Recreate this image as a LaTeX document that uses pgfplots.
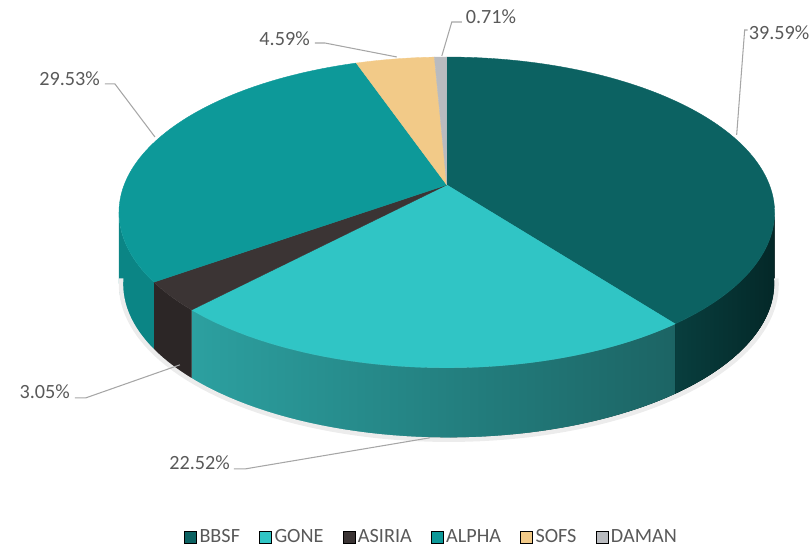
\documentclass[border=0pt]{standalone}
\usepackage{fontspec}
\setmainfont{Carlito}
\usepackage{pgfplots}
\usepackage{pgfplotstable}
\pgfplotsset{compat=1.18}
\usepgfplotslibrary{fillbetween}

\definecolor{labelgray}{RGB}{89,89,89}
\definecolor{leader}{RGB}{166,166,166}
\definecolor{bbsf}{RGB}{12,98,98}
\definecolor{bbsfside}{RGB}{8,62,62}
\definecolor{bbsfsidedark}{RGB}{4,40,40}
\definecolor{gone}{RGB}{48,197,197}
\definecolor{goneside}{RGB}{44,160,160}
\definecolor{gonesidedark}{RGB}{28,100,100}
\definecolor{asiria}{RGB}{59,52,52}
\definecolor{asiriaside}{RGB}{44,38,38}
\definecolor{alpha}{RGB}{13,153,153}
\definecolor{alphaside}{RGB}{11,133,133}
\definecolor{sofs}{RGB}{242,202,136}
\definecolor{daman}{RGB}{185,187,191}

% share of each company, in percent
\pgfplotstableread{
label  pct
BBSF   39.59
GONE   22.52
ASIRIA 3.05
ALPHA  29.53
SOFS   4.59
DAMAN  0.71
}\piedata

% start / end angle of each slice, clockwise from the top
\def\cum{90}
\pgfplotsforeachungrouped \i in {0,...,5}{%
  \pgfplotstablegetelem{\i}{pct}\of\piedata
  \pgfmathsetmacro\nxt{\cum-3.6*\pgfplotsretval}%
  \expandafter\xdef\csname pieS\i\endcsname{\cum}%
  \expandafter\xdef\csname pieE\i\endcsname{\nxt}%
  \xdef\cum{\nxt}%
}
\def\PS#1{\csname pieS#1\endcsname}
\def\PE#1{\csname pieE#1\endcsname}

\begin{document}
\begin{tikzpicture}
\begin{axis}[
  width=16.22cm, height=11.06cm, scale only axis,
  xmin=0, xmax=811, ymin=0, ymax=553,
  hide axis, clip=false, no markers,
  samples=90,
  % perspective view of the pie's top circle
  declare function={
    px(\t)=447+322.8*cos(\t)/(1+0.1769*sin(\t));
    py(\t)=368+150.6*sin(\t)/(1+0.1769*sin(\t));
  },
  legend columns=6,
  legend style={at={(axis cs:432,15)}, anchor=center, draw=none, fill=none,
    font=\fontsize{11.5}{13}\selectfont, text=labelgray,
    nodes={inner sep=1.5pt},
    /tikz/every even column/.append style={column sep=0.33cm}},
  legend image code/.code={\fill[#1] (0cm,-0.12cm) rectangle (0.24cm,0.12cm);},
]
\path (axis cs:0,0) rectangle (axis cs:811,553);

\addlegendimage{fill=bbsf}\addlegendentry{BBSF}
\addlegendimage{fill=gone}\addlegendentry{GONE}
\addlegendimage{fill=asiria}\addlegendentry{ASIRIA}
\addlegendimage{fill=alpha}\addlegendentry{ALPHA}
\addlegendimage{fill=sofs}\addlegendentry{SOFS}
\addlegendimage{fill=daman}\addlegendentry{DAMAN}

% soft shadow under the front edge
\addplot[draw=gray!15, line width=2.5pt, domain=-172:-8, forget plot] ({px(x)+2},{py(x)-72});

% side walls (front half only)
\addplot[draw=none, name path=t0, domain=\PE0:-10.19, forget plot] ({px(x)},{py(x)});
\addplot[draw=none, name path=b0, domain=\PE0:-10.19, forget plot] ({px(x)},{py(x)-70});
\addplot[left color=bbsfside, right color=bbsfsidedark, forget plot] fill between[of=t0 and b0];

\addplot[draw=none, name path=t1, domain=\PE1:\PS1, forget plot] ({px(x)},{py(x)});
\addplot[draw=none, name path=b1, domain=\PE1:\PS1, forget plot] ({px(x)},{py(x)-70});
\addplot[left color=goneside, right color=gonesidedark, forget plot] fill between[of=t1 and b1];

\addplot[draw=none, name path=t2, domain=\PE2:\PS2, forget plot] ({px(x)},{py(x)});
\addplot[draw=none, name path=b2, domain=\PE2:\PS2, forget plot] ({px(x)},{py(x)-70});
\addplot[fill=asiriaside, forget plot] fill between[of=t2 and b2];

\addplot[draw=none, name path=t3, domain=-169.81:\PS3, forget plot] ({px(x)},{py(x)});
\addplot[draw=none, name path=b3, domain=-169.81:\PS3, forget plot] ({px(x)},{py(x)-70});
\addplot[fill=alphaside, forget plot] fill between[of=t3 and b3];

% top faces
\addplot[fill=bbsf, draw=bbsf, line width=0.2pt, domain=\PE0:\PS0, forget plot] ({px(x)},{py(x)}) -- (axis cs:447,368) -- cycle;
\addplot[fill=gone, draw=gone, line width=0.2pt, domain=\PE1:\PS1, forget plot] ({px(x)},{py(x)}) -- (axis cs:447,368) -- cycle;
\addplot[fill=asiria, draw=asiria, line width=0.2pt, domain=\PE2:\PS2, forget plot] ({px(x)},{py(x)}) -- (axis cs:447,368) -- cycle;
\addplot[fill=alpha, draw=alpha, line width=0.2pt, domain=\PE3:\PS3, forget plot] ({px(x)},{py(x)}) -- (axis cs:447,368) -- cycle;
\addplot[fill=sofs, draw=sofs, line width=0.2pt, domain=\PE4:\PS4, forget plot] ({px(x)},{py(x)}) -- (axis cs:447,368) -- cycle;
\addplot[fill=daman, draw=daman, line width=0.2pt, domain=\PE5:\PS5, samples=10, forget plot] ({px(x)},{py(x)}) -- (axis cs:447,368) -- cycle;

% data labels with leader lines
\begin{scope}[every node/.style={font=\fontsize{11.5}{13}\selectfont, text=labelgray, inner sep=1pt}]
\draw[leader, line width=0.6pt] (axis cs:442,497) -- (axis cs:452,531) -- (axis cs:462,531);
\node[anchor=west] at (axis cs:464,536) {0.71\%};
\draw[leader, line width=0.6pt] (axis cs:315,510) -- (axis cs:325,510) -- (axis cs:397,496);
\node[anchor=east] at (axis cs:312,514) {4.59\%};
\draw[leader, line width=0.6pt] (axis cs:105,469) -- (axis cs:115,469) -- (axis cs:155,416);
\node[anchor=east] at (axis cs:102,474) {29.53\%};
\draw[leader, line width=0.6pt] (axis cs:748,523) -- (axis cs:745,523) -- (axis cs:737,418);
\node[anchor=west] at (axis cs:747,520) {39.59\%};
\draw[leader, line width=0.6pt] (axis cs:75,155) -- (axis cs:86,155) -- (axis cs:180,188);
\node[anchor=east] at (axis cs:72,161) {3.05\%};
\draw[leader, line width=0.6pt] (axis cs:234,84) -- (axis cs:246,84) -- (axis cs:430,115);
\node[anchor=east] at (axis cs:232,90) {22.52\%};
\end{scope}
\end{axis}
\end{tikzpicture}
\end{document}
